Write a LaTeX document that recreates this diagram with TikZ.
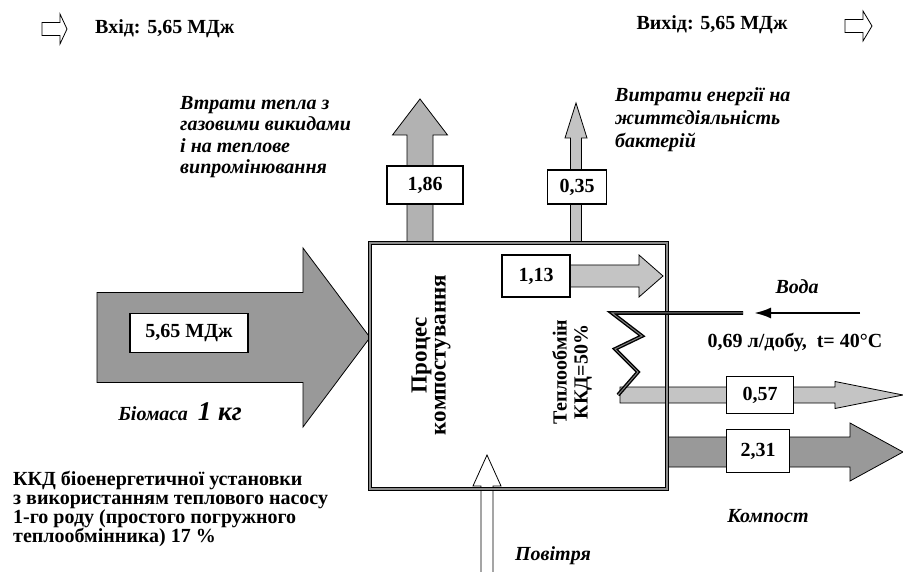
\documentclass[tikz,border=0pt]{standalone}
\usepackage{fontspec}
\setmainfont{Liberation Serif}
\usetikzlibrary{arrows.meta}

\definecolor{biogray}{gray}{0.60}
\definecolor{lossgray}{gray}{0.70}
\definecolor{lightgray}{gray}{0.77}
\definecolor{wallgray}{gray}{0.55}

% block arrow to the right: style, x start, x head, x tip, y, shaft half, head half
\newcommand{\rightblock}[7]{%
  \draw[#1] (#2,#5-#6) -- (#3,#5-#6) -- (#3,#5-#7) -- (#4,#5)
    -- (#3,#5+#7) -- (#3,#5+#6) -- (#2,#5+#6) -- cycle;}
% block arrow upwards: style, x, y start, y head, y tip, shaft half, head half
\newcommand{\upblock}[7]{%
  \draw[#1] (#2-#6,#3) -- (#2-#6,#4) -- (#2-#7,#4) -- (#2,#5)
    -- (#2+#7,#4) -- (#2+#6,#4) -- (#2+#6,#3) -- cycle;}

\begin{document}
\begin{tikzpicture}[x=1pt, y=-1pt,
    valbox/.style={draw, fill=white, line width=1.2pt, inner sep=0pt,
      font=\bfseries\fontsize{20}{22}\selectfont},
    note/.style={font=\bfseries\itshape\fontsize{20}{23}\selectfont, inner sep=0pt},
    plain/.style={font=\bfseries\fontsize{20}{22}\selectfont, inner sep=0pt},
    coil/.style={draw=black, double=gray, line width=1.4pt, double distance=1pt}]
    \useasboundingbox (0,0) rectangle (903,572);

    % Input / output header
    \rightblock{draw=black, fill=white, line width=0.8pt}{42}{60}{67}{29}{6.5}{15}
    \node [plain, anchor=west] (vhid) at (95,29) {Вхід: 5,65 МДж};
    \node [plain] (vyhid) at (712,25) {Вихід: 5,65 МДж};
    \rightblock{draw=black, fill=white, line width=0.8pt}{845}{863}{872}{26}{6.5}{15}

    % Flows
    \rightblock{draw=black, fill=biogray, line width=0.8pt}{97}{303}{370}{337.5}{45}{89.5}
    \upblock{draw=black, fill=lossgray, line width=0.8pt}{420}{243}{135}{99}{13}{27.5}
    \upblock{draw=black, fill=lightgray, line width=0.8pt}{576}{243}{138}{103}{5.5}{11}
    \rightblock{draw=black, fill=lightgray, line width=0.8pt}{570}{639}{663}{276}{11}{21}
    \rightblock{draw=black, fill=lightgray, line width=0.8pt}{620}{835}{903}{395}{8}{13.5}
    \rightblock{draw=black, fill=biogray, line width=0.8pt}{667}{850}{903}{452}{15}{29}
    \upblock{draw=black, fill=white, line width=0.8pt}{487}{575}{486}{455}{6}{14}

    % Composting chamber
    \node [draw=black, double=wallgray, line width=0.7pt, double distance=2pt,
        minimum width=297pt, minimum height=246pt] (komp) at (518.5,366) {};
    \node [plain, rotate=90, align=center, font=\bfseries\fontsize{23}{19}\selectfont]
        (proc) at (431,355) {Процес\\компостування};
    \node [plain, rotate=90, align=center, font=\bfseries\fontsize{20}{21}\selectfont]
        (teplo) at (572,372) {Теплообмін\\ККД=50\%};

    % Heat exchanger coil and water
    \coordinate (hxa) at (612,313);
    \coordinate (hxb) at (743,313);
    \draw [coil] (hxb) -- (hxa) -- (642,336) -- (615,349) -- (638,372) -- (618,395);
    \coordinate (wIn) at (860,313);
    \coordinate (wOut) at (754,313);
    \draw [line width=2.5pt, -{Latex[length=17pt,width=11pt]}] (wIn) -- (wOut);

    % Value boxes
    \node [valbox, minimum width=118pt, minimum height=39pt] (bio) at (189,333) {5,65 МДж};
    \node [valbox, minimum width=76pt, minimum height=38pt] (v186) at (425,185) {1,86};
    \node [valbox, minimum width=59pt, minimum height=34pt] (v035) at (577,187) {0,35};
    \node [valbox, minimum width=68pt, minimum height=42pt] (v113) at (536,276) {1,13};
    \node [valbox, minimum width=67pt, minimum height=37pt] (v057) at (760,395) {0,57};
    \node [valbox, minimum width=63pt, minimum height=43pt] (v231) at (758,451) {2,31};

    % Labels
    \node [note] (biomasa) at (180,412) {Біомаса\ \ {\fontsize{27}{27}\selectfont 1 кг}};
    \node [note, anchor=north west, align=left, font=\bfseries\itshape\fontsize{20}{21.5}\selectfont]
        (gaz) at (180,96) {Втрати тепла з\\газовими викидами\\і на теплове\\випромінювання};
    \node [note, anchor=north west, align=left] (bakt) at (615,87)
        {Витрати енергії на\\життєдіяльність\\бактерій};
    \node [note] (voda) at (797,287) {Вода};
    \node [plain] (litry) at (795,342) {0,69 л/добу,\ \ t= 40°C};
    \node [note] (kompost) at (768,516) {Компост};
    \node [note] (povitria) at (553,556) {Повітря};
    \node [plain, anchor=north west, align=left, font=\bfseries\fontsize{20}{19}\selectfont]
        (kkd) at (13,471) {ККД біоенергетичної установки\\з використанням теплового насосу\\1-го роду (простого погружного\\теплообмінника) 17 \%};
\end{tikzpicture}
\end{document}
